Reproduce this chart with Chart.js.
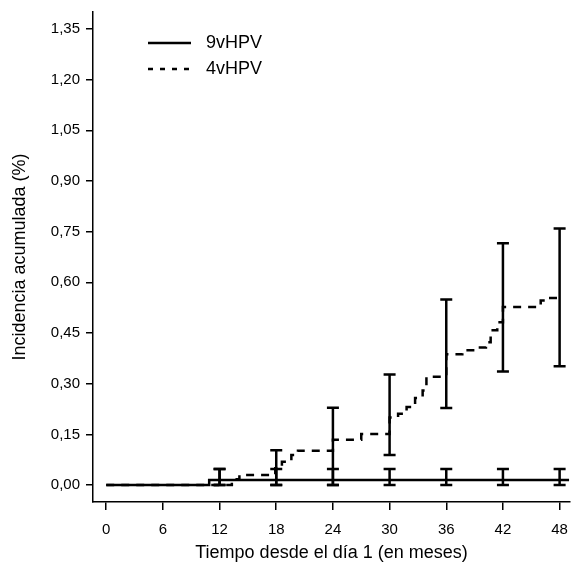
<!DOCTYPE html>
<html>
<head>
<meta charset="utf-8">
<script src="https://cdn.jsdelivr.net/npm/chart.js@4"></script>
<style>
  html, body { margin: 0; padding: 0; background: #fff; }
  #chart { display: block; }
</style>
</head>
<body>
<canvas id="chart" width="572" height="570"></canvas>
<script>
// cumulative incidence, step curves (months, %)
const months9 = [0, 10.9, 49];
const inc9 = [0, 0.015, 0.015];

const months4 = [0, 13.3, 14.1, 17.9, 18.6, 19.6, 20.3, 24.0, 27.0, 30.0, 30.9, 31.8, 32.7, 33.5, 33.9, 36.0, 37.7, 39.1, 40.2, 40.7, 41.4, 42.0, 46.0, 46.5, 48.0];
const inc4 = [0, 0.017, 0.03, 0.05, 0.069, 0.089, 0.102, 0.134, 0.151, 0.2, 0.211, 0.231, 0.258, 0.28, 0.321, 0.387, 0.399, 0.407, 0.423, 0.458, 0.482, 0.527, 0.546, 0.554, 0.554];

// confidence intervals at the visits
const errMonths = [12, 18, 24, 30, 36, 42, 48];
const lo9 = [0, 0, 0, 0, 0, 0, 0];
const hi9 = [0.048, 0.048, 0.048, 0.048, 0.048, 0.048, 0.048];
const lo4 = [0, 0, 0, 0.089, 0.228, 0.336, 0.352];
const hi4 = [0.048, 0.103, 0.229, 0.327, 0.549, 0.716, 0.759];

const xTicks = [0, 6, 12, 18, 24, 30, 36, 42, 48];
const yTicks = [0, 0.15, 0.30, 0.45, 0.60, 0.75, 0.90, 1.05, 1.20, 1.35];

const FONT = '"Liberation Sans", Arial, Helvetica, sans-serif';

const errorBars = {
  id: 'errorBars',
  afterDatasetsDraw(chart) {
    const { ctx, scales: { x, y } } = chart;
    const cap = 6;
    ctx.save();
    ctx.strokeStyle = '#000';
    ctx.lineWidth = 2.5;
    ctx.setLineDash([]);
    const draw = (lo, hi) => {
      errMonths.forEach((m, i) => {
        const px = x.getPixelForValue(m);
        const y1 = y.getPixelForValue(lo[i]);
        const y2 = y.getPixelForValue(hi[i]);
        ctx.beginPath();
        ctx.moveTo(px, y1); ctx.lineTo(px, y2);
        ctx.moveTo(px - cap, y1); ctx.lineTo(px + cap, y1);
        ctx.moveTo(px - cap, y2); ctx.lineTo(px + cap, y2);
        ctx.stroke();
      });
    };
    draw(lo9, hi9);
    draw(lo4, hi4);
    ctx.restore();
  }
};

const legendBox = {
  id: 'legendBox',
  afterDraw(chart) {
    const { ctx } = chart;
    ctx.save();
    ctx.font = '18px ' + FONT;
    ctx.textBaseline = 'middle';
    ctx.fillStyle = '#000';
    chart.data.datasets.forEach((ds, i) => {
      const yy = 43 + i * 26;
      ctx.beginPath();
      ctx.lineWidth = 2.5;
      ctx.strokeStyle = '#000';
      ctx.setLineDash(ds.borderDash && ds.borderDash.length ? [5, 7] : []);
      ctx.moveTo(148, yy);
      ctx.lineTo(191, yy);
      ctx.stroke();
      ctx.fillText(ds.label, 206, yy);
    });
    ctx.restore();
  }
};

new Chart(document.getElementById('chart'), {
  type: 'line',
  data: {
    datasets: [
      {
        label: '9vHPV',
        data: months9.map((m, i) => ({ x: m, y: inc9[i] })),
        borderColor: '#000',
        borderWidth: 2.5,
        borderDash: [],
        stepped: 'before',
        pointRadius: 0,
        fill: false,
      },
      {
        label: '4vHPV',
        data: months4.map((m, i) => ({ x: m, y: inc4[i] })),
        borderColor: '#000',
        borderWidth: 2.5,
        borderDash: [8, 7],
        stepped: 'before',
        pointRadius: 0,
        fill: false,
      }
    ]
  },
  options: {
    responsive: false,
    animation: false,
    layout: { padding: { top: 12, right: 2, left: 0, bottom: 0 } },
    scales: {
      x: {
        type: 'linear',
        min: -1.4,
        max: 49.1,
        afterBuildTicks: s => { s.ticks = xTicks.map(v => ({ value: v })); },
        afterFit: s => { s.height = 68; s.paddingLeft = 0; s.paddingRight = 0; },
        grid: { drawOnChartArea: false, drawTicks: true, tickLength: 8, color: '#000', lineWidth: 1.5 },
        border: { display: true, color: '#000', width: 1.5 },
        ticks: { color: '#000', padding: 11, maxRotation: 0, font: { family: FONT, size: 15 } },
        title: {
          display: true,
          text: 'Tiempo desde el día 1 (en meses)',
          color: '#000',
          font: { family: FONT, size: 18 },
          padding: { top: 0, bottom: 6 }
        }
      },
      y: {
        type: 'linear',
        min: -0.05,
        max: 1.40,
        afterBuildTicks: s => { s.ticks = yTicks.map(v => ({ value: v })); },
        afterFit: s => { s.width = 93; s.paddingTop = 0; s.paddingBottom = 0; },
        grid: { drawOnChartArea: false, drawTicks: true, tickLength: 7, color: '#000', lineWidth: 1.5 },
        border: { display: true, color: '#000', width: 1.5 },
        ticks: {
          color: '#000',
          padding: 6,
          font: { family: FONT, size: 15 },
          callback: v => v.toFixed(2).replace('.', ',')
        },
        title: {
          display: true,
          text: 'Incidencia acumulada (%)',
          color: '#000',
          font: { family: FONT, size: 18 },
          padding: { top: 9, bottom: 0 }
        }
      }
    },
    plugins: {
      legend: { display: false },
      tooltip: { enabled: false }
    }
  },
  plugins: [errorBars, legendBox]
});
</script>
</body>
</html>
